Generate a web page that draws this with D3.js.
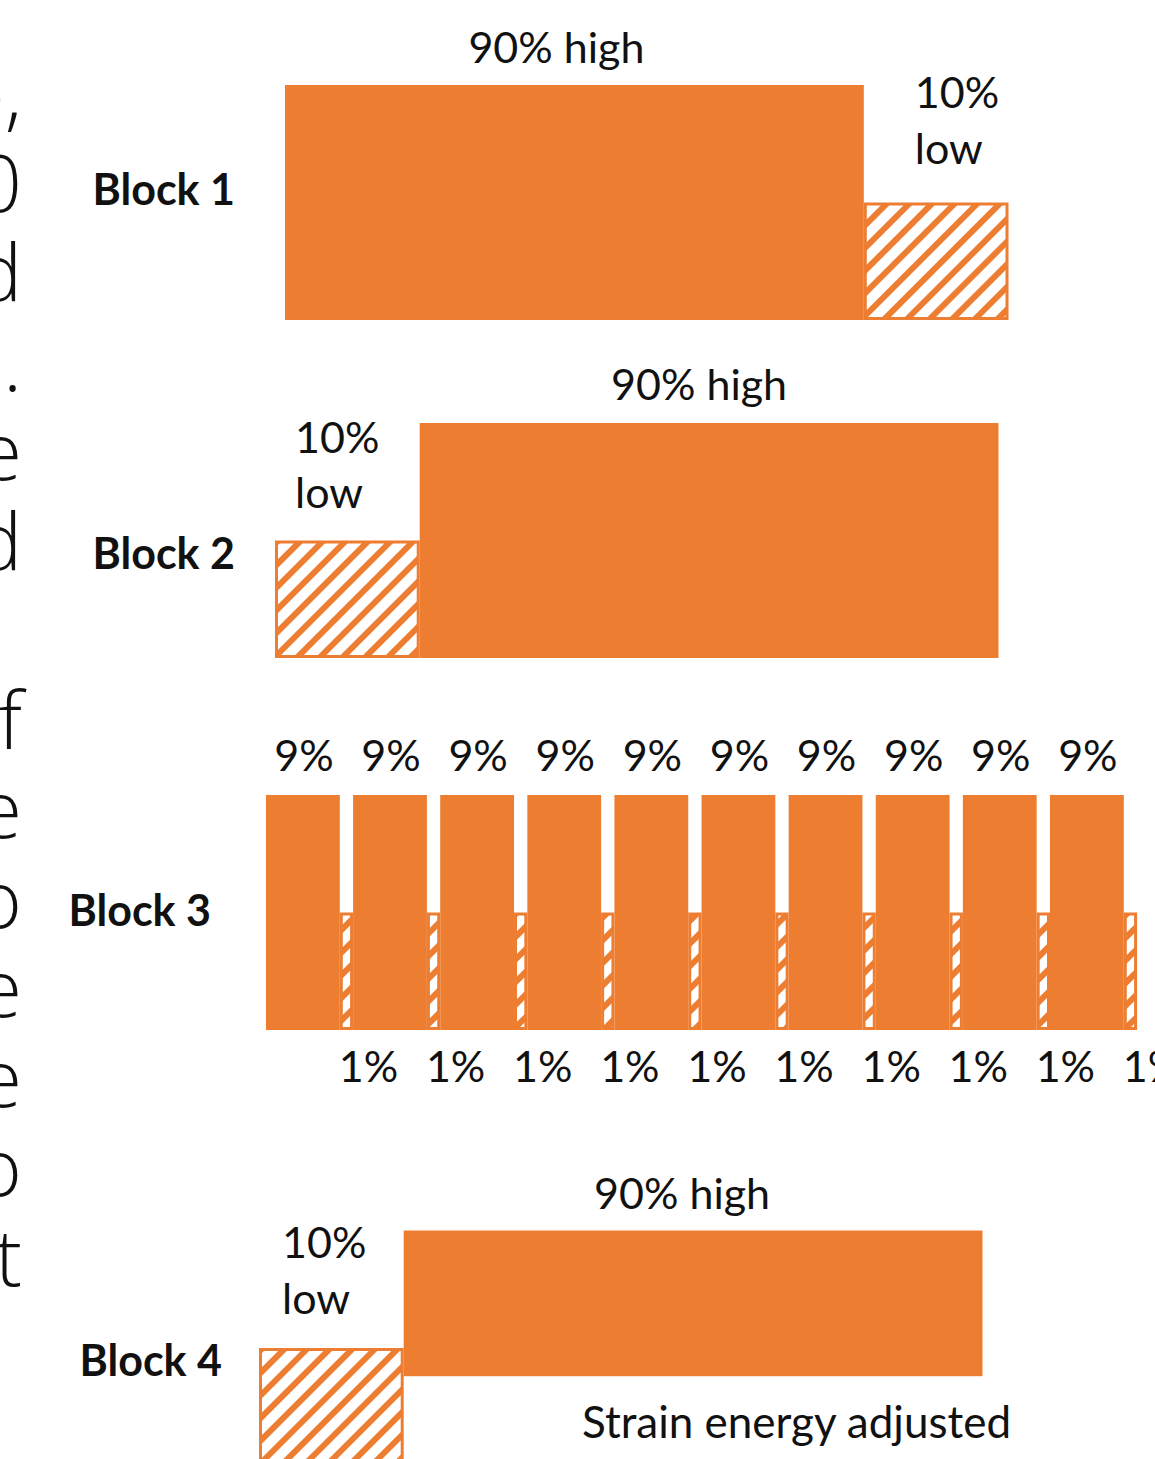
<!DOCTYPE html>
<html>
<head>
<meta charset="utf-8">
<script src="https://cdn.jsdelivr.net/npm/d3@7/dist/d3.min.js"></script>
<style>
  html, body { margin: 0; padding: 0; background: #fff; }
  svg { display: block; }
  .lbl { font-family: Lato, "Open Sans", sans-serif; fill: #111; }
  .blk { font-family: Lato, "Open Sans", sans-serif; font-weight: 700; fill: #111; }
  .side { font-family: "Open Sans", Lato, sans-serif; font-weight: 300; fill: #111; }
</style>
</head>
<body>
<script>
// ---- data -------------------------------------------------------------
const blockNames = ["Block 1", "Block 2", "Block 3", "Block 4"];

// Block 1: high then low load
const b1Levels = [2, 1];
const b1Spans = [40, 10];
const b1Shares = ["90% high", "10%"];

// Block 2: low then high load
const b2Levels = [1, 2];
const b2Spans = [10, 40];
const b2Shares = ["10%", "90% high"];

// Block 3: ten interleaved high/low cycles
const b3HighShares = ["9%", "9%", "9%", "9%", "9%", "9%", "9%", "9%", "9%", "9%"];
const b3LowShares = ["1%", "1%", "1%", "1%", "1%", "1%", "1%", "1%", "1%", "1%"];
const b3Levels = [2, 1];
const b3Spans = [5.1, 0.92];

// Block 4: low then high load, high band raised (strain energy adjusted)
const b4Levels = [1, 2];
const b4Floors = [0, 0.76];
const b4Spans = [10, 40];
const b4Shares = ["10%", "90% high"];
const b4Note = "Strain energy adjusted";

// running text at the left margin (line endings)
const sideText = ["e,", "0", "d", "e.", "e", "d", "", "f", "e", "o", "e", "e", "o", "t"];

// ---- layout -----------------------------------------------------------
const W = 1155, H = 1459;
const ORANGE = "#ED7D31";
const PX_PER_UNIT = 14.47;
const LEVEL_PX = 117.5;
const FS = 43;

const svg = d3.select("body").append("svg")
  .attr("width", W).attr("height", H)
  .attr("viewBox", `0 0 ${W} ${H}`);

const defs = svg.append("defs");
const pat = defs.append("pattern")
  .attr("id", "hatch")
  .attr("patternUnits", "userSpaceOnUse")
  .attr("width", 16).attr("height", 16)
  .attr("patternTransform", "rotate(45)");
pat.append("rect").attr("width", 16).attr("height", 16).attr("fill", "#fff");
pat.append("rect").attr("width", 6).attr("height", 16).attr("fill", ORANGE);

// left-margin text fragments
svg.append("g").selectAll("text")
  .data(sideText)
  .join("text")
  .attr("class", "side")
  .attr("x", 22)
  .attr("y", (d, i) => 122 + i * 89.5)
  .attr("text-anchor", "end")
  .attr("font-size", 80)
  .text(d => d);

// builds x/y scales for one block
function scalesFor(x0, base, spans) {
  const total = d3.sum(spans);
  const x = d3.scaleLinear().domain([0, total]).range([x0, x0 + total * PX_PER_UNIT]);
  const y = d3.scaleLinear().domain([0, 2]).range([base, base - 2 * LEVEL_PX]);
  return { x, y };
}

// turns level/span arrays into positioned segments
function segments(levels, spans, floors) {
  let acc = 0;
  return levels.map((lv, i) => {
    const s = { level: lv, floor: floors ? floors[i] : 0, start: acc, span: spans[i], high: lv === 2 };
    acc += spans[i];
    return s;
  });
}

function drawBars(g, segs, sc) {
  // low (hatched) bars first, high bars on top
  const ordered = segs.slice().sort((a, b) => a.level - b.level);
  g.selectAll("rect.bar")
    .data(ordered)
    .join("rect")
    .attr("class", "bar")
    .attr("x", d => sc.x(d.start) + (d.high ? 0 : 1.5))
    .attr("width", d => sc.x(d.start + d.span) - sc.x(d.start) - (d.high ? 0 : 3))
    .attr("y", d => sc.y(d.level) + (d.high ? 0 : 1.5))
    .attr("height", d => sc.y(d.floor) - sc.y(d.level) - (d.high ? 0 : 3))
    .attr("fill", d => d.high ? ORANGE : "url(#hatch)")
    .attr("stroke", d => d.high ? "none" : ORANGE)
    .attr("stroke-width", 3);
}

function text(g, str, x, y, anchor, size, cls) {
  return g.append("text")
    .attr("class", cls || "lbl")
    .attr("x", x).attr("y", y)
    .attr("text-anchor", anchor || "start")
    .attr("font-size", size || FS)
    .text(str);
}

// ---- Block 1 ----
{
  const g = svg.append("g");
  const sc = scalesFor(285, 320, b1Spans);
  const segs = segments(b1Levels, b1Spans);
  drawBars(g, segs, sc);
  const hi = segs[0], lo = segs[1];
  text(g, b1Shares[0], (sc.x(hi.start) + sc.x(hi.start + hi.span)) / 2 - 18, sc.y(hi.level) - 22, "middle");
  text(g, b1Shares[1], sc.x(lo.start) + 51, sc.y(hi.level) + 23);
  text(g, "low", sc.x(lo.start) + 51, sc.y(hi.level) + 79);
  text(g, blockNames[0], 235, 205, "end", FS, "blk");
}

// ---- Block 2 ----
{
  const g = svg.append("g");
  const sc = scalesFor(275, 658, b2Spans);
  const segs = segments(b2Levels, b2Spans);
  drawBars(g, segs, sc);
  const lo = segs[0], hi = segs[1];
  text(g, b2Shares[1], (sc.x(hi.start) + sc.x(hi.start + hi.span)) / 2 - 10, sc.y(hi.level) - 23, "middle");
  text(g, b2Shares[0], sc.x(lo.start) + 20, sc.y(lo.level) - 88);
  text(g, "low", sc.x(lo.start) + 20, sc.y(lo.level) - 33);
  text(g, blockNames[1], 235, 569, "end", FS, "blk");
}

// ---- Block 3 ----
{
  const g = svg.append("g");
  const spans = [];
  const levels = [];
  b3HighShares.forEach(() => { spans.push(b3Spans[0], b3Spans[1]); levels.push(b3Levels[0], b3Levels[1]); });
  const sc = scalesFor(266, 1030, spans);
  const segs = segments(levels, spans);
  drawBars(g, segs, sc);
  const highs = segs.filter(d => d.high);
  const lows = segs.filter(d => !d.high);
  g.selectAll("text.hi")
    .data(highs)
    .join("text")
    .attr("class", "lbl hi")
    .attr("x", d => (sc.x(d.start) + sc.x(d.start + d.span)) / 2 + 1)
    .attr("y", sc.y(2) - 24)
    .attr("text-anchor", "middle")
    .attr("font-size", FS)
    .text((d, i) => b3HighShares[i]);
  g.selectAll("text.lo")
    .data(lows)
    .join("text")
    .attr("class", "lbl lo")
    .attr("x", d => sc.x(d.start) - 1)
    .attr("y", sc.y(0) + 52)
    .attr("text-anchor", "start")
    .attr("font-size", FS)
    .text((d, i) => b3LowShares[i]);
  text(g, blockNames[2], 211, 926, "end", FS, "blk");
}

// ---- Block 4 ----
{
  const g = svg.append("g");
  const sc = scalesFor(259, 1465.5, b4Spans);
  const segs = segments(b4Levels, b4Spans, b4Floors);
  drawBars(g, segs, sc);
  const lo = segs[0], hi = segs[1];
  text(g, b4Shares[1], (sc.x(hi.start) + sc.x(hi.start + hi.span)) / 2 - 11, sc.y(hi.level) - 22, "middle");
  text(g, b4Shares[0], sc.x(lo.start) + 23, sc.y(lo.level) - 90);
  text(g, "low", sc.x(lo.start) + 23, sc.y(lo.level) - 34);
  text(g, b4Note, 582, 1438, "start", 44);
  text(g, blockNames[3], 222, 1376, "end", FS, "blk");
}
</script>
</body>
</html>
